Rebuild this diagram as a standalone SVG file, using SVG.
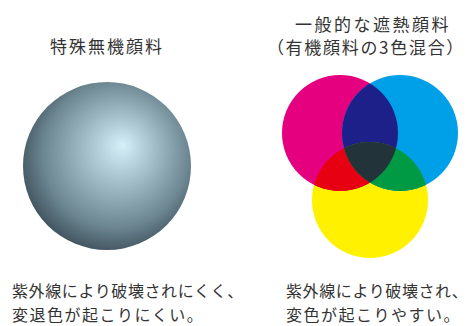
<svg xmlns="http://www.w3.org/2000/svg" width="468" height="326" viewBox="0 0 468 326">
<style>
.t{font-family:"Noto Sans CJK JP","Noto Sans CJK SC",sans-serif;fill:#333;}
.h{font-size:17px;letter-spacing:2px;}
.b{font-size:16px;}
.l1{letter-spacing:0.6px;}
.l2{letter-spacing:1.5px;}
</style>
<defs>
<radialGradient id="sph" gradientUnits="userSpaceOnUse" cx="114" cy="157" r="98" fx="123" fy="145">
<stop offset="0" stop-color="#d6f0fa"/>
<stop offset="0.4" stop-color="#9cb6c2"/>
<stop offset="0.75" stop-color="#6b8591"/>
<stop offset="1" stop-color="#3e515b"/>
</radialGradient>
<clipPath id="cM"><circle cx="340" cy="133" r="58"/></clipPath>
<clipPath id="cC"><circle cx="400" cy="133" r="58"/></clipPath>
<clipPath id="cY"><circle cx="370" cy="200" r="58"/></clipPath>
</defs>
<g id="title-left"><text class="t h" x="107" y="53" text-anchor="middle">特殊無機顔料</text></g>
<g id="title-right">
<text class="t h" x="373" y="31" text-anchor="middle" style="letter-spacing:2.5px">一般的な遮熱顔料</text>
<text class="t h" x="366" y="54" text-anchor="middle" style="letter-spacing:1.7px">（有機顔料の3色混合）</text>
</g>
<g id="sphere"><circle cx="107" cy="166" r="84" fill="url(#sph)"/></g>
<g id="venn">
<circle cx="370" cy="200" r="58" fill="#fff100"/>
<circle cx="340" cy="133" r="58" fill="#e4007f"/>
<circle cx="400" cy="133" r="58" fill="#00a0e9"/>
<circle cx="340" cy="133" r="58" fill="#1d2088" clip-path="url(#cC)"/>
<circle cx="340" cy="133" r="58" fill="#e60012" clip-path="url(#cY)"/>
<circle cx="400" cy="133" r="58" fill="#009944" clip-path="url(#cY)"/>
<g clip-path="url(#cM)"><circle cx="400" cy="133" r="58" fill="#22343a" clip-path="url(#cY)"/></g>
</g>
<g id="caption-left">
<text class="t b l1" x="12" y="297">紫外線により破壊されにくく、</text>
<text class="t b l2" x="12" y="321">変退色が起こりにくい。</text>
</g>
<g id="caption-right">
<text class="t b l1" x="286" y="297">紫外線により破壊され、</text>
<text class="t b l2" x="286" y="321">変色が起こりやすい。</text>
</g>
</svg>
